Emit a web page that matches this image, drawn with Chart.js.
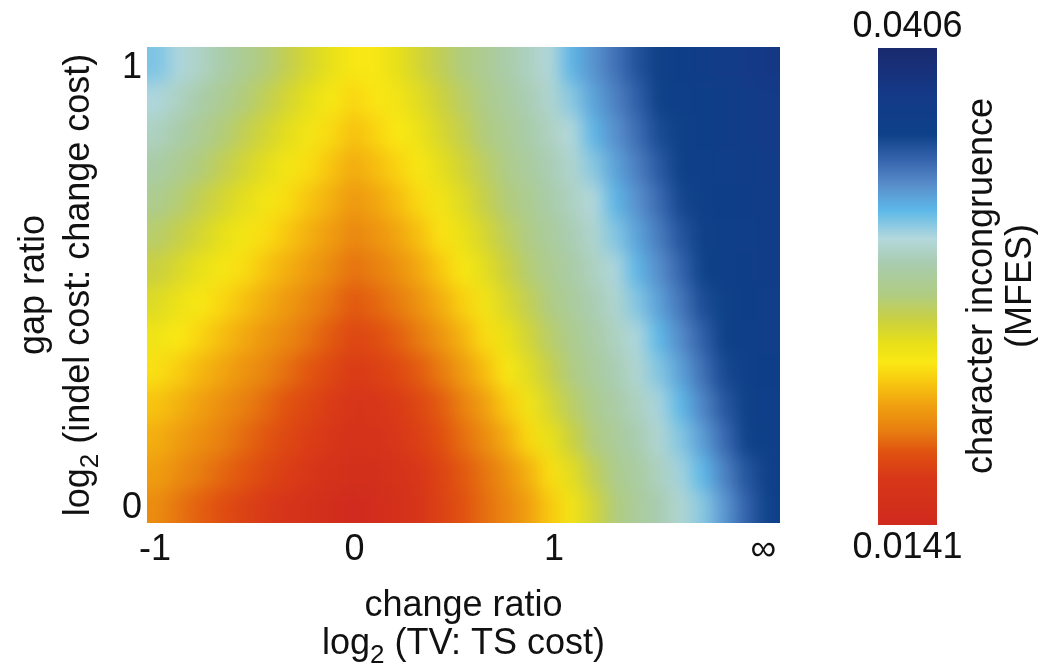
<!DOCTYPE html>
<html>
<head>
<meta charset="utf-8">
<title>character incongruence</title>
<script src="https://cdn.jsdelivr.net/npm/chart.js@4.4.1/dist/chart.umd.min.js"></script>
<style>
    html, body { margin: 0; padding: 0; background: #fff; }
    #wrap { position: relative; width: 1038px; height: 671px; }
    #heat { position: absolute; left: 0; top: 0; }
    #bar { position: absolute; left: 840px; top: 0; }
</style>
</head>
<body>
<div id="wrap">
    <canvas id="heat" width="840" height="671"></canvas>
    <canvas id="bar" width="198" height="671"></canvas>
</div>
<script>
// Column centres: change ratio, log2 (TV:TS cost); the last columns run up to infinity
const changeRatio = [-0.985, -0.876, -0.767, -0.657, -0.548, -0.438, -0.329, -0.219, -0.110, 0,
    0.109, 0.219, 0.328, 0.438, 0.547, 0.657, 0.766, 0.876, 0.985, 1.094,
    1.204, 1.313, 1.423, 1.532, 1.641, 1.751, 1.860, 1.970, 2.079];

// Row centres: gap ratio, log2 (indel cost:change cost)
const gapRatio = [0.005, 0.082, 0.159, 0.237, 0.314, 0.391, 0.468, 0.546, 0.623, 0.700, 0.778, 0.855, 0.932, 1.009];

// MFES, in units of 1e-4, bottom row first
const mfesRows = [
    [199, 191, 185, 179, 173, 168, 160, 154, 149, 141, 146, 154, 162, 173, 181, 189, 197, 207, 221, 236, 252, 268, 279, 287, 297, 308, 327, 345, 358],
    [206, 199, 193, 187, 182, 176, 170, 164, 157, 152, 152, 158, 165, 174, 183, 191, 201, 213, 228, 244, 260, 274, 281, 292, 303, 316, 334, 350, 361],
    [212, 206, 200, 194, 188, 182, 176, 170, 163, 157, 159, 165, 172, 180, 189, 199, 211, 226, 241, 255, 269, 278, 287, 297, 309, 325, 342, 358, 362],
    [219, 213, 207, 200, 194, 188, 181, 175, 169, 162, 164, 169, 176, 184, 195, 207, 221, 236, 250, 263, 274, 283, 292, 302, 316, 333, 349, 360, 363],
    [228, 222, 215, 209, 202, 196, 189, 182, 176, 169, 172, 177, 184, 193, 205, 217, 232, 245, 257, 270, 279, 288, 297, 309, 324, 340, 355, 361, 365],
    [237, 231, 224, 217, 210, 203, 197, 190, 183, 176, 179, 185, 193, 203, 214, 227, 240, 252, 264, 274, 283, 292, 301, 316, 331, 346, 359, 363, 366],
    [246, 239, 232, 225, 218, 211, 204, 197, 190, 183, 187, 193, 202, 212, 223, 236, 248, 259, 270, 279, 288, 296, 309, 324, 338, 353, 360, 364, 367],
    [255, 248, 241, 234, 227, 219, 212, 205, 198, 190, 194, 201, 210, 221, 232, 244, 255, 266, 275, 283, 292, 301, 317, 330, 344, 358, 362, 365, 369],
    [264, 257, 250, 242, 235, 227, 220, 212, 205, 197, 202, 209, 218, 229, 240, 250, 261, 271, 279, 288, 296, 309, 323, 336, 350, 360, 363, 367, 370],
    [274, 266, 258, 250, 243, 235, 227, 219, 212, 204, 209, 217, 226, 236, 246, 257, 267, 275, 284, 292, 300, 317, 329, 342, 356, 361, 364, 368, 371],
    [283, 275, 267, 259, 251, 243, 235, 227, 219, 211, 217, 224, 233, 243, 252, 262, 272, 280, 288, 296, 308, 323, 335, 348, 359, 363, 366, 369, 373],
    [292, 284, 276, 267, 259, 251, 243, 235, 226, 218, 224, 231, 239, 249, 258, 268, 276, 284, 292, 300, 317, 329, 341, 354, 360, 364, 368, 372, 375],
    [301, 292, 284, 276, 267, 259, 250, 242, 233, 225, 230, 236, 245, 254, 263, 272, 280, 288, 296, 308, 323, 334, 346, 358, 362, 365, 368, 372, 375],
    [310, 301, 293, 284, 275, 267, 258, 249, 241, 232, 233, 242, 251, 260, 268, 276, 284, 292, 299, 317, 328, 339, 351, 360, 365, 369, 374, 378, 383]
];

// Colour scale limits and tick labels
const mfesMin = 0.0141;
const mfesMax = 0.0406;
const xTickValues = [-1, 0, 1, 2.05];
const xTickLabels = ['-1', '0', '1', '\u221E'];
const yTickValues = [0, 1];
const yTickLabels = ['0', '1'];

const FONT = '"Liberation Sans", Arial, Helvetica, sans-serif';

// red -> yellow -> pale -> blue colour map (position along the scale, colour)
const colourStops = [
    [0.00, '#d02a1e'], [0.10, '#d83818'], [0.15, '#e05010'], [0.20, '#e88010'],
    [0.25, '#f0a010'], [0.30, '#f8c810'], [0.34, '#fae814'], [0.38, '#e8e018'],
    [0.43, '#cad040'], [0.48, '#b0cc80'], [0.55, '#a8ccb0'], [0.60, '#b4d8dc'],
    [0.66, '#5cb8e8'], [0.71, '#5a90cc'], [0.76, '#3a68b0'], [0.82, '#0d4088'],
    [0.90, '#143a88'], [1.00, '#1a2a6e']
];

function hexRgb(h) {
    return [parseInt(h.slice(1, 3), 16), parseInt(h.slice(3, 5), 16), parseInt(h.slice(5, 7), 16)];
}

function colourFor(m) {
    const t = Math.max(0, Math.min(1, (m - mfesMin) / (mfesMax - mfesMin)));
    for (let i = 1; i < colourStops.length; i++) {
        if (t <= colourStops[i][0]) {
            const [t0, c0] = colourStops[i - 1];
            const [t1, c1] = colourStops[i];
            const k = (t - t0) / (t1 - t0);
            const a = hexRgb(c0), b = hexRgb(c1);
            return 'rgb(' + a.map((v, j) => Math.round(v + (b[j] - v) * k)).join(',') + ')';
        }
    }
    return colourStops[colourStops.length - 1][1];
}

// one floating bar per cell
const rowHalf = (gapRatio[gapRatio.length - 1] - gapRatio[0]) / (gapRatio.length - 1) / 2;
const cells = [];
gapRatio.forEach((v, r) => {
    changeRatio.forEach((u, c) => {
        cells.push({ x: u, y: [v - rowHalf, v + rowHalf], m: mfesRows[r][c] / 1e4 });
    });
});

// "log" + subscript 2 + rest, centred on cx with baseline at base
function drawLogLabel(ctx, cx, base, rest) {
    ctx.font = '36px ' + FONT;
    const w1 = ctx.measureText('log').width;
    const w3 = ctx.measureText(rest).width;
    ctx.font = '26px ' + FONT;
    const w2 = ctx.measureText('2').width;
    let x = cx - (w1 + w2 + w3) / 2;
    ctx.textAlign = 'left';
    ctx.textBaseline = 'alphabetic';
    ctx.font = '36px ' + FONT;
    ctx.fillText('log', x, base);
    x += w1;
    ctx.font = '26px ' + FONT;
    ctx.fillText('2', x, base + 9);
    x += w2;
    ctx.font = '36px ' + FONT;
    ctx.fillText(rest, x, base);
}

// soften the cell edges the way the original continuous map looks
// (edges are clamped first so the border of the map does not fade)
const smoothPlugin = {
    id: 'smooth',
    afterDatasetsDraw(chart) {
        const { ctx, chartArea: a, canvas } = chart;
        const r = chart.currentDevicePixelRatio || 1;
        const P = 30;
        const L = Math.round(a.left * r), T = Math.round(a.top * r);
        const W = Math.round(a.width * r), H = Math.round(a.height * r);
        const off = document.createElement('canvas');
        off.width = W + 2 * P;
        off.height = H + 2 * P;
        const o = off.getContext('2d');
        o.drawImage(canvas, L, T, W, H, P, P, W, H);
        o.drawImage(canvas, L + 1, T, 1, H, 0, P, P, H);
        o.drawImage(canvas, L + W - 2, T, 1, H, P + W, P, P, H);
        o.drawImage(off, 0, P + 1, W + 2 * P, 1, 0, 0, W + 2 * P, P);
        o.drawImage(off, 0, P + H - 2, W + 2 * P, 1, 0, P + H, W + 2 * P, P);

        ctx.save();
        ctx.setTransform(1, 0, 0, 1, 0, 0);
        ctx.beginPath();
        ctx.rect(L, T, W, H);
        ctx.clip();
        ctx.filter = 'blur(9px)';
        ctx.drawImage(off, L - P, T - P);
        ctx.restore();
    }
};

const heatTitles = {
    id: 'heatTitles',
    afterDraw(chart) {
        const { ctx, chartArea: a } = chart;
        const cx = (a.left + a.right) / 2;
        const cy = (a.top + a.bottom) / 2;
        ctx.save();
        ctx.fillStyle = '#111';
        ctx.font = '36px ' + FONT;
        ctx.textAlign = 'center';
        ctx.textBaseline = 'alphabetic';
        ctx.fillText('change ratio', cx, 616);
        drawLogLabel(ctx, cx, 654, ' (TV: TS cost)');

        ctx.translate(44, cy);
        ctx.rotate(-Math.PI / 2);
        ctx.font = '36px ' + FONT;
        ctx.textAlign = 'center';
        ctx.fillText('gap ratio', 0, 0);
        ctx.restore();

        ctx.save();
        ctx.fillStyle = '#111';
        ctx.translate(89, cy);
        ctx.rotate(-Math.PI / 2);
        drawLogLabel(ctx, 0, 0, ' (indel cost: change cost)');
        ctx.restore();
    }
};

window.addEventListener('DOMContentLoaded', () => {
    // Heat map
    new Chart(document.getElementById('heat').getContext('2d'), {
        type: 'bar',
        data: {
            datasets: [{
                data: cells,
                backgroundColor: (c) => colourFor(c.raw ? c.raw.m : mfesMin),
                borderWidth: 0,
                inflateAmount: 1,
                barPercentage: 1,
                categoryPercentage: 1
            }]
        },
        options: {
            responsive: false,
            maintainAspectRatio: false,
            animation: false,
            layout: { padding: { top: 47, right: 60, left: 0, bottom: 0 } },
            plugins: { legend: { display: false }, tooltip: { enabled: false } },
            scales: {
                x: {
                    type: 'linear',
                    min: -1.04,
                    max: 2.133,
                    offset: false,
                    grid: { display: false, drawTicks: false },
                    border: { display: false },
                    afterBuildTicks: (s) => { s.ticks = xTickValues.map(v => ({ value: v })); },
                    afterFit: (s) => { s.height = 148; },
                    ticks: {
                        autoSkip: false,
                        maxRotation: 0,
                        padding: 5,
                        color: '#111',
                        font: { family: FONT, size: 36 },
                        callback: (v, i) => xTickLabels[i]
                    }
                },
                y: {
                    type: 'linear',
                    min: -0.034,
                    max: 1.048,
                    grid: { display: false, drawTicks: false },
                    border: { display: false },
                    afterBuildTicks: (s) => { s.ticks = yTickValues.map(v => ({ value: v })); },
                    afterFit: (s) => { s.width = 147; },
                    ticks: {
                        autoSkip: false,
                        padding: 5,
                        color: '#111',
                        font: { family: FONT, size: 36 },
                        callback: (v, i) => yTickLabels[i]
                    }
                }
            }
        },
        plugins: [smoothPlugin, heatTitles]
    });

    // Colour bar
    const barTitles = {
        id: 'barTitles',
        afterDraw(chart) {
            const { ctx, chartArea: a } = chart;
            const cx = (a.left + a.right) / 2;
            ctx.save();
            ctx.fillStyle = '#111';
            ctx.font = '36px ' + FONT;
            ctx.textAlign = 'center';
            ctx.textBaseline = 'alphabetic';
            ctx.fillText(mfesMax.toFixed(4), cx, 37);
            ctx.fillText(mfesMin.toFixed(4), cx, 558);
            ctx.translate(152, 286);
            ctx.rotate(-Math.PI / 2);
            ctx.fillText('character incongruence', 0, 0);
            ctx.fillText('(MFES)', 0, 39);
            ctx.restore();
        }
    };

    new Chart(document.getElementById('bar').getContext('2d'), {
        type: 'bar',
        data: {
            labels: ['MFES'],
            datasets: [{
                data: [[mfesMin, mfesMax]],
                borderWidth: 0,
                barPercentage: 1,
                categoryPercentage: 1,
                backgroundColor: (c) => {
                    const chart = c.chart;
                    if (!chart.chartArea) return '#888';
                    const y = chart.scales.y;
                    const g = chart.ctx.createLinearGradient(0, y.getPixelForValue(mfesMin), 0, y.getPixelForValue(mfesMax));
                    colourStops.forEach(s => g.addColorStop(s[0], s[1]));
                    return g;
                }
            }]
        },
        options: {
            responsive: false,
            maintainAspectRatio: false,
            animation: false,
            layout: { padding: { top: 48, right: 101, left: 38, bottom: 146 } },
            plugins: { legend: { display: false }, tooltip: { enabled: false } },
            scales: {
                x: { display: false },
                y: { display: false, min: mfesMin, max: mfesMax }
            }
        },
        plugins: [barTitles]
    });
});
</script>
</body>
</html>
